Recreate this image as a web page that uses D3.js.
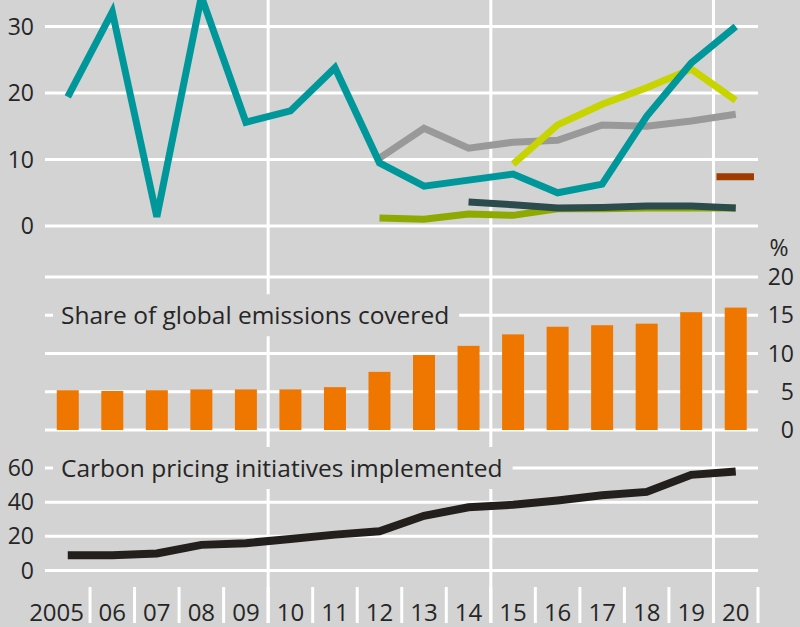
<!DOCTYPE html>
<html lang="en">
  <head>
    <meta charset="utf-8" />
    <title>Carbon pricing</title>
    <style>
      body {
        margin: 0;
        background: #d3d3d3;
      }
      svg text {
        font-family: 'Open Sans', sans-serif;
        fill: #262626;
      }
    </style>
    <script src="https://d3js.org/d3.v7.min.js"></script>
  </head>

  <body>
    <svg width="800" height="627"></svg>

    <script>
      // data
      const years = [2005, 2006, 2007, 2008, 2009, 2010, 2011, 2012,
        2013, 2014, 2015, 2016, 2017, 2018, 2019, 2020];
      const yearLabels = ['2005', '06', '07', '08', '09', '10', '11', '12',
        '13', '14', '15', '16', '17', '18', '19', '20'];

      // top panel: carbon prices (null = no data)
      const teal = [19.4, 32.2, 1.4, 34.5, 15.6, 17.3, 23.8, 9.5,
        6.0, 6.9, 7.8, 5.0, 6.3, 16.5, 24.5, 30.0];
      const grey = [null, null, null, null, null, null, null, 10.2,
        14.7, 11.7, 12.6, 12.9, 15.2, 15.0, 15.8, 16.8];
      const lime = [null, null, null, null, null, null, null, null,
        null, null, 9.3, 15.2, 18.3, 20.8, 23.6, 18.9];
      const green = [null, null, null, null, null, null, null, 1.2,
        1.0, 1.8, 1.6, 2.6, 2.6, 2.7, 2.7, 2.7];
      const slate = [null, null, null, null, null, null, null, null,
        null, 3.6, 3.2, 2.7, 2.8, 3.0, 3.0, 2.7];
      const brown = [null, null, null, null, null, null, null, null,
        null, null, null, null, null, null, null, 7.4];
      const topTicks = [0, 10, 20, 30];

      // middle panel: share of global emissions covered, %
      const share = [5.2, 5.1, 5.2, 5.3, 5.3, 5.3, 5.6, 7.6,
        9.8, 11.0, 12.5, 13.5, 13.7, 13.9, 15.4, 16.0];
      const shareTicks = [0, 5, 10, 15, 20];

      // bottom panel: initiatives implemented
      const initiatives = [9, 9, 10, 15, 16, 18.5, 21, 23,
        32, 37, 38.5, 41, 44, 46, 56, 58];
      const initTicks = [0, 20, 40, 60];

      const svg = d3.select('svg');
      const x = d3.scaleBand().domain(years).range([45.5, 758]);
      const cx = (y) => x(y) + x.bandwidth() / 2;

      const yTop = d3.scaleLinear().domain([0, 30]).range([226, 26.5]);
      const yMid = d3.scaleLinear().domain([0, 20]).range([430, 277]);
      const yBot = d3.scaleLinear().domain([0, 60]).range([570.5, 468]);

      const grid = svg.append('g');
      const marks = svg.append('g');
      const labels = svg.append('g');

      // vertical grid lines every 5 years
      grid.selectAll('.vline')
        .data([2010, 2015, 2020])
        .join('line')
        .attr('x1', (d) => x(d)).attr('x2', (d) => x(d))
        .attr('y1', 0).attr('y2', 623)
        .attr('stroke', '#fff').attr('stroke-width', 3);

      // separators between year labels
      grid.selectAll('.sep')
        .data(years.slice(1).concat([2021]))
        .join('line')
        .attr('x1', (d, i) => 45.5 + (i + 1) * x.step())
        .attr('x2', (d, i) => 45.5 + (i + 1) * x.step())
        .attr('y1', 587).attr('y2', 623)
        .attr('stroke', '#fff').attr('stroke-width', 3);

      function hgrid(scale, ticks) {
        grid.append('g').selectAll('line')
          .data(ticks)
          .join('line')
          .attr('x1', 45).attr('x2', 758)
          .attr('y1', (d) => scale(d)).attr('y2', (d) => scale(d))
          .attr('stroke', '#fff').attr('stroke-width', 3);
      }
      hgrid(yTop, topTicks);
      hgrid(yMid, shareTicks);
      hgrid(yBot, initTicks);

      // top panel lines
      const series = [
        { v: green, c: '#8eaa00' },
        { v: grey, c: '#999999' },
        { v: lime, c: '#c8d400' },
        { v: slate, c: '#2b4b4c' },
        { v: teal, c: '#00979b' },
      ];
      const topLine = d3.line()
        .defined((d) => d.v != null)
        .x((d) => cx(d.y))
        .y((d) => yTop(d.v));
      series.forEach((s) => {
        marks.append('path')
          .datum(years.map((y, i) => ({ y, v: s.v[i] })))
          .attr('d', topLine)
          .attr('fill', 'none')
          .attr('stroke', s.c)
          .attr('stroke-width', 7)
          .attr('stroke-linejoin', 'miter');
      });
      // single-year value shown as a dash
      marks.selectAll('.dash')
        .data(years.map((y, i) => ({ y, v: brown[i] })).filter((d) => d.v != null))
        .join('line')
        .attr('x1', (d) => x(d.y) + 3)
        .attr('x2', (d) => x(d.y) + x.bandwidth() - 4)
        .attr('y1', (d) => yTop(d.v)).attr('y2', (d) => yTop(d.v))
        .attr('stroke', '#a03c00').attr('stroke-width', 7);

      // bars
      marks.selectAll('.bar')
        .data(years.map((y, i) => ({ y, v: share[i] })))
        .join('rect')
        .attr('x', (d) => cx(d.y) - 11)
        .attr('width', 22)
        .attr('y', (d) => yMid(d.v))
        .attr('height', (d) => yMid(0) - yMid(d.v))
        .attr('fill', '#ef7700');

      // bottom line
      marks.append('path')
        .datum(years.map((y, i) => ({ y, v: initiatives[i] })))
        .attr('d', d3.line().x((d) => cx(d.y)).y((d) => yBot(d.v)))
        .attr('fill', 'none')
        .attr('stroke', '#231f1c')
        .attr('stroke-width', 8);

      // titles with background patches over the grid
      function title(txt, yc) {
        const g = labels.append('g');
        const r = g.append('rect').attr('fill', '#d3d3d3');
        const t = g.append('text')
          .attr('x', 61).attr('y', yc)
          .attr('dy', '0.36em')
          .style('font-size', '24.5px')
          .text(txt);
        const w = t.node().getComputedTextLength();
        r.attr('x', 53).attr('width', w + 18)
          .attr('y', yc - 21).attr('height', 42);
      }
      title('Share of global emissions covered', yMid(15));
      title('Carbon pricing initiatives implemented', yBot(60));

      // axis labels
      function leftTicks(scale, ticks) {
        labels.append('g').selectAll('text')
          .data(ticks)
          .join('text')
          .attr('x', 34)
          .attr('y', (d) => scale(d))
          .attr('dy', '0.35em')
          .attr('text-anchor', 'end')
          .style('font-size', '23px')
          .text((d) => d);
      }
      leftTicks(yTop, topTicks);
      leftTicks(yBot, initTicks);

      labels.append('g').selectAll('text')
        .data(shareTicks)
        .join('text')
        .attr('x', 794)
        .attr('y', (d) => yMid(d))
        .attr('dy', '0.35em')
        .attr('text-anchor', 'end')
        .style('font-size', '23px')
        .text((d) => d);
      labels.append('text')
        .attr('x', 779).attr('y', 248)
        .attr('dy', '0.35em')
        .attr('text-anchor', 'middle')
        .style('font-size', '23px')
        .text('%');

      // year labels; the first one is kept inside its band on the right
      labels.append('g').selectAll('text')
        .data(years)
        .join('text')
        .attr('x', (d, i) => (i === 0 ? x(d) + x.bandwidth() - 6 : cx(d)))
        .attr('y', 621)
        .attr('text-anchor', (d, i) => (i === 0 ? 'end' : 'middle'))
        .style('font-size', '24px')
        .text((d, i) => yearLabels[i]);
    </script>
  </body>
</html>
